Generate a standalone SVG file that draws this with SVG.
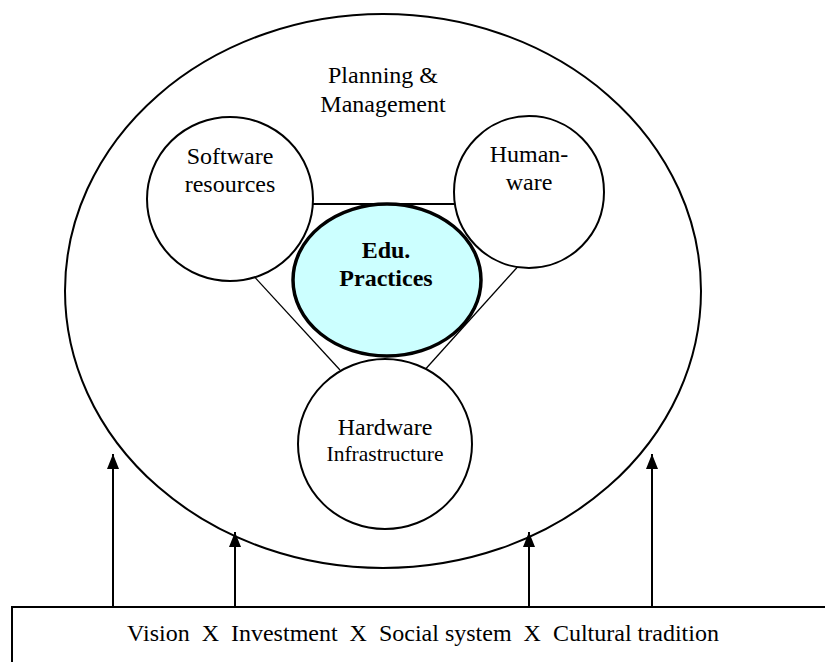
<svg xmlns="http://www.w3.org/2000/svg" width="825" height="662" viewBox="0 0 825 662">
<style>
text{font-family:'Liberation Serif','Times New Roman','DejaVu Serif',serif;font-size:24px;fill:#000;text-anchor:middle}
.b{font-weight:bold}
.node{fill:#fff;stroke:#000;stroke-width:2}
.link{stroke:#000;fill:none}
.arr{stroke:#000;stroke-width:2;fill:none;marker-end:url(#ah)}
</style>
<defs>
<marker id="ah" viewBox="0 0 15 12" refX="15" refY="6" markerWidth="15" markerHeight="12" markerUnits="userSpaceOnUse" orient="auto">
<path d="M0,0 L15,6 L0,12 Z" fill="#000"/>
</marker>
</defs>
<rect width="825" height="662" fill="#fff"/>
<g id="outer">
<ellipse class="node" cx="383" cy="291" rx="318" ry="277"/>
<text x="383" y="83">Planning &amp;</text>
<text x="383" y="112">Management</text>
</g>
<g id="connectors">
<line class="link" x1="305" y1="204" x2="460" y2="204" stroke-width="2"/>
<line class="link" x1="250" y1="272" x2="340" y2="370" stroke-width="1.3"/>
<line class="link" x1="522" y1="262" x2="422" y2="373" stroke-width="1.3"/>
<line class="arr" x1="113" y1="607" x2="113" y2="454"/>
<line class="arr" x1="235" y1="607" x2="235" y2="532"/>
<line class="arr" x1="529" y1="607" x2="529" y2="532"/>
<line class="arr" x1="652" y1="607" x2="652" y2="454"/>
</g>
<g id="software">
<ellipse class="node" cx="230" cy="199" rx="83" ry="82"/>
<text x="230" y="164">Software</text>
<text x="230" y="192">resources</text>
</g>
<g id="humanware">
<ellipse class="node" cx="529" cy="192" rx="75" ry="76"/>
<text x="529" y="162">Human-</text>
<text x="529" y="190">ware</text>
</g>
<g id="hardware">
<ellipse class="node" cx="385" cy="444" rx="87" ry="85"/>
<text x="385" y="435">Hardware</text>
<text x="385" y="461" style="font-size:21.5px">Infrastructure</text>
</g>
<g id="edu">
<ellipse cx="387" cy="280" rx="94" ry="76" fill="#CCFFFF" stroke="#000" stroke-width="3.5"/>
<text class="b" x="386" y="258">Edu.</text>
<text class="b" x="386" y="286">Practices</text>
</g>
<g id="factors">
<path d="M12,670 L12,607 L830,607" fill="#fff" stroke="#000" stroke-width="2"/>
<text x="423" y="641" xml:space="preserve">Vision  X  Investment  X  Social system  X  Cultural tradition</text>
</g>
</svg>
